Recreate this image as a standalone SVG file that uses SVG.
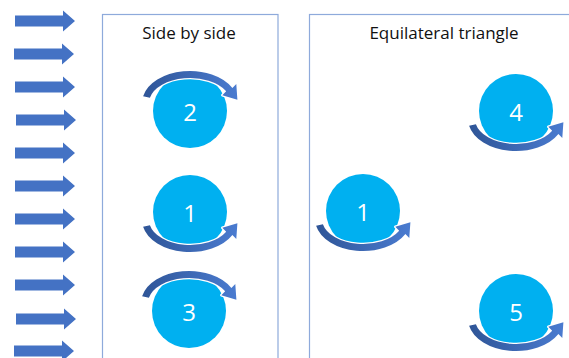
<svg xmlns="http://www.w3.org/2000/svg" xmlns:xlink="http://www.w3.org/1999/xlink" width="569" height="358" viewBox="0 0 569 358">
<style>
.frame{fill:none;stroke:#8eaadb;stroke-width:1.2}
.title{font-family:"Open Sans","Noto Sans",sans-serif;font-size:17px;fill:#111;text-anchor:middle}
.ball{fill:#00b0f0}
.num{font-family:"Open Sans","Noto Sans",sans-serif;font-size:24px;fill:#fff;text-anchor:middle}
.arc{fill:url(#arcGrad);stroke:#fff;stroke-width:2.5;stroke-linejoin:round;paint-order:stroke}
.flow{fill:#4472c4}
</style>
<defs>
<linearGradient id="arcGrad" x1="0" y1="0" x2="1" y2="0">
<stop offset="0" stop-color="#2f5597"/>
<stop offset="1" stop-color="#4a7bd0"/>
</linearGradient>
<path id="arcTop" d="M-46.9,-14.7 A48,32 0 0 1 42.4,-23 L46.3,-27 L47.4,-11.3 L32.3,-15.8 L36.2,-19.7 A41,25 0 0 0 -40.1,-13.2 Z"/>
<polygon id="flowArrow" points="0,-5.5 48,-5.5 48,-10.5 60,0 48,10.5 48,5.5 0,5.5"/>
</defs>

<g id="left-arrows" class="flow">
<use xlink:href="#flowArrow" transform="translate(15,21)"/>
<use xlink:href="#flowArrow" transform="translate(14,54)"/>
<use xlink:href="#flowArrow" transform="translate(15,87)"/>
<use xlink:href="#flowArrow" transform="translate(16,120)"/>
<use xlink:href="#flowArrow" transform="translate(15,153)"/>
<use xlink:href="#flowArrow" transform="translate(15,186)"/>
<use xlink:href="#flowArrow" transform="translate(15,219)"/>
<use xlink:href="#flowArrow" transform="translate(15,252)"/>
<use xlink:href="#flowArrow" transform="translate(15,285)"/>
<use xlink:href="#flowArrow" transform="translate(16,319)"/>
<use xlink:href="#flowArrow" transform="translate(14,351)"/>
</g>

<g id="panel-side">
<rect class="frame" x="102.5" y="14.5" width="175.5" height="350"/>
<text class="title" x="189" y="39">Side by side</text>
</g>
<g id="panel-triangle">
<rect class="frame" x="309.5" y="14.5" width="270" height="350"/>
<text class="title" x="444" y="39">Equilateral triangle</text>
</g>

<g id="node-s2">
<circle class="ball" cx="190" cy="111" r="37"/>
<use class="arc" xlink:href="#arcTop" transform="translate(190,111)"/>
<text class="num" x="190" y="120.5">2</text>
</g>
<g id="node-s1">
<circle class="ball" cx="190" cy="212" r="37"/>
<use class="arc" xlink:href="#arcTop" transform="translate(190,212) scale(1,-1)"/>
<text class="num" x="190" y="221.5">1</text>
</g>
<g id="node-s3">
<circle class="ball" cx="189" cy="311" r="37"/>
<use class="arc" xlink:href="#arcTop" transform="translate(189,311)"/>
<text class="num" x="189" y="320.5">3</text>
</g>

<g id="node-t1">
<circle class="ball" cx="363" cy="211" r="37"/>
<use class="arc" xlink:href="#arcTop" transform="translate(363,211) scale(1,-1)"/>
<text class="num" x="363" y="220.5">1</text>
</g>
<g id="node-t4">
<circle class="ball" cx="516" cy="111" r="37"/>
<use class="arc" xlink:href="#arcTop" transform="translate(516,111) scale(1,-1)"/>
<text class="num" x="516" y="120.5">4</text>
</g>
<g id="node-t5">
<circle class="ball" cx="516" cy="311" r="37"/>
<use class="arc" xlink:href="#arcTop" transform="translate(516,311) scale(1,-1)"/>
<text class="num" x="516" y="320.5">5</text>
</g>
</svg>
